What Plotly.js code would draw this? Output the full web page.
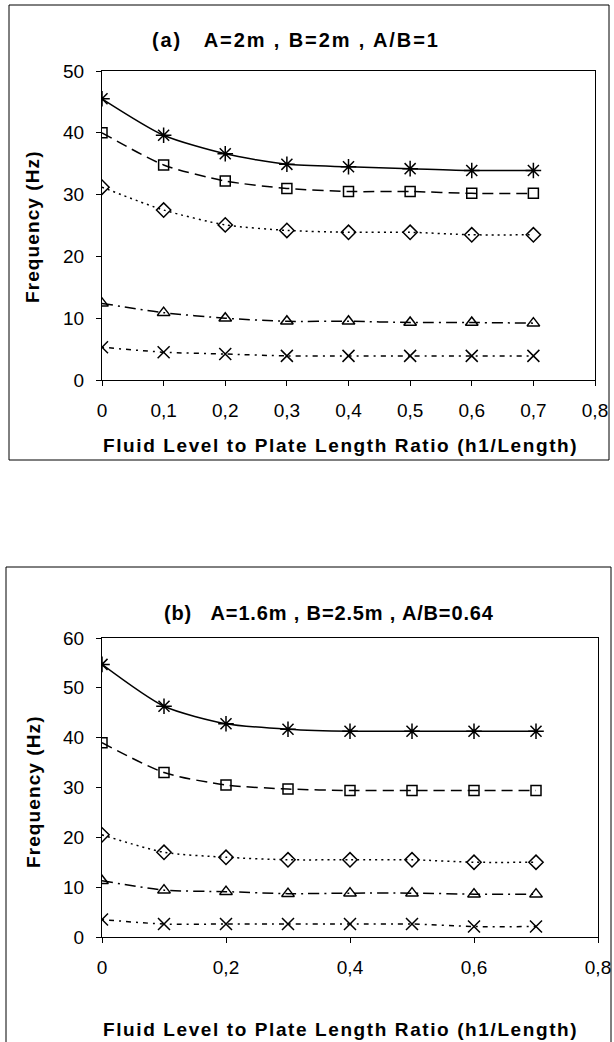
<!DOCTYPE html>
<html>
<head>
<meta charset="utf-8">
<script src="https://cdn.plot.ly/plotly-3.0.1.min.js"></script>
<style>
html,body{margin:0;padding:0;background:#fff;}
#chart{width:614px;height:1042px;}
</style>
</head>
<body>
<div id="chart"></div>
<script>
// ---- data ----
const ratioX = [0, 0.1, 0.2, 0.3, 0.4, 0.5, 0.6, 0.7];

// chart (a) A=2m, B=2m
const a_mode1 = [45.5, 39.6, 36.6, 34.9, 34.5, 34.2, 33.9, 33.9];
const a_mode2 = [40.0, 34.8, 32.2, 31.0, 30.5, 30.5, 30.2, 30.2];
const a_mode3 = [31.2, 27.5, 25.1, 24.2, 23.9, 23.9, 23.5, 23.5];
const a_mode4 = [12.4, 10.9, 10.0, 9.5, 9.5, 9.3, 9.3, 9.2];
const a_mode5 = [5.3, 4.5, 4.2, 3.9, 3.9, 3.9, 3.9, 3.9];

// chart (b) A=1.6m, B=2.5m
const b_mode1 = [54.7, 46.3, 42.8, 41.7, 41.3, 41.3, 41.3, 41.3];
const b_mode2 = [39.0, 33.0, 30.5, 29.7, 29.4, 29.4, 29.4, 29.4];
const b_mode3 = [20.5, 17.0, 16.0, 15.5, 15.5, 15.5, 15.0, 15.0];
const b_mode4 = [11.3, 9.4, 9.1, 8.7, 8.8, 8.8, 8.6, 8.6];
const b_mode5 = [3.5, 2.6, 2.6, 2.6, 2.6, 2.6, 2.1, 2.1];

const titleA = "(a)   A=2m , B=2m , A/B=1";
const titleB = "(b)   A=1.6m , B=2.5m , A/B=0.64";
const xTitle = "Fluid Level to Plate Length Ratio (h1/Length)";
const yTitle = "Frequency (Hz)";

// ---- styles ----
const W = 614, H = 1042;
const styles = [
  {sym: 'asterisk-open', size: 13, dash: 'solid'},
  {sym: 'square-open', size: 10, dash: '11px,6px'},
  {sym: 'diamond-open', size: 11, dash: '2px,4px'},
  {sym: 'triangle-up-open', size: 11, dash: '11px,5px,2px,5px'},
  {sym: 'x-thin-open', size: 12, dash: '2px,5px,5px,5px'}
];

function mk(y, i, xa, ya) {
  const s = styles[i];
  return {
    x: ratioX, y: y, xaxis: xa, yaxis: ya, type: 'scatter', mode: 'lines+markers',
    line: {color: '#000', width: 1.5, dash: s.dash, shape: 'spline', smoothing: 0.7},
    marker: {symbol: s.sym, size: s.size, color: '#000', line: {color: '#000', width: 1.5}},
    showlegend: false, hoverinfo: 'skip'
  };
}

const data = [];
[a_mode1, a_mode2, a_mode3, a_mode4, a_mode5].forEach((y, i) => data.push(mk(y, i, 'x', 'y')));
[b_mode1, b_mode2, b_mode3, b_mode4, b_mode5].forEach((y, i) => data.push(mk(y, i, 'x2', 'y2')));

const px = v => v / W;
const py = v => 1 - v / H;

const fam = 'Liberation Sans, Arial, sans-serif';
const font = {family: fam, color: '#000'};
const axBase = {
  showgrid: false, zeroline: false, showline: true, linecolor: '#000', linewidth: 1,
  mirror: true, ticks: 'outside', ticklen: 5, tickcolor: '#000', tickwidth: 1,
  ticklabelstandoff: 8,
  tickfont: {family: fam, size: 19, color: '#000'}, fixedrange: true
};
const bold19 = {family: fam, size: 19, color: '#000', weight: 'bold'};
const bold20 = {family: fam, size: 20, color: '#000', weight: 'bold'};
const sp = (t, s) => '<span style="letter-spacing:' + s + 'px">' + t + '</span>';
const ann = (text, x, y, f, extra) => Object.assign({
  text: text, xref: 'paper', yref: 'paper', x: px(x), y: py(y), showarrow: false,
  xanchor: 'center', yanchor: 'middle', font: f
}, extra || {});

const layout = {
  width: W, height: H,
  margin: {l: 0, r: 0, t: 0, b: 0},
  paper_bgcolor: '#fff', plot_bgcolor: '#fff',
  separators: ',.',
  font: font,
  xaxis: Object.assign({}, axBase, {domain: [px(102), px(595)], range: [0, 0.8],
    tickvals: [0, 0.1, 0.2, 0.3, 0.4, 0.5, 0.6, 0.7, 0.8], anchor: 'y'}),
  yaxis: Object.assign({}, axBase, {domain: [py(380), py(71)], range: [0, 50], dtick: 10, anchor: 'x'}),
  xaxis2: Object.assign({}, axBase, {domain: [px(102), px(598)], range: [0, 0.8],
    tickvals: [0, 0.2, 0.4, 0.6, 0.8], anchor: 'y2'}),
  yaxis2: Object.assign({}, axBase, {domain: [py(937), py(638)], range: [0, 60], dtick: 10, anchor: 'x2'}),
  shapes: [
    {type: 'rect', xref: 'paper', yref: 'paper', x0: px(9), x1: px(609), y0: py(460), y1: py(5),
     line: {color: '#000', width: 1}},
    {type: 'rect', xref: 'paper', yref: 'paper', x0: px(6), x1: px(611), y0: py(1045), y1: py(567),
     line: {color: '#000', width: 1}}
  ],
  annotations: [
    ann(sp(titleA, 1.9), 296, 40, bold20),
    ann(sp(titleB, 0.85), 329, 613, bold20),
    ann(sp(xTitle, 1.6), 340, 445, bold19),
    ann(sp(xTitle, 1.6), 340, 1029, bold19),
    ann(sp(yTitle, 1.1), 33, 227, bold19, {textangle: -90}),
    ann(sp(yTitle, 1.1), 33, 792, bold19, {textangle: -90})
  ]
};

Plotly.newPlot('chart', data, layout, {staticPlot: true, displayModeBar: false});
</script>
</body>
</html>
